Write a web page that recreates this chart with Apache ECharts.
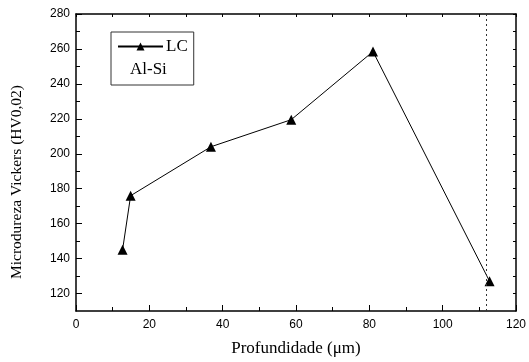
<!DOCTYPE html>
<html>
<head>
<meta charset="utf-8">
<script src="https://cdn.jsdelivr.net/npm/echarts@6/dist/echarts.min.js"></script>
<style>
  html, body { margin: 0; padding: 0; background: #fff; }
  #chart { width: 529px; height: 362px; }
</style>
</head>
<body>
<div id="chart"></div>
<script>
// depth (um) vs Vickers microhardness
const depth = [12.7, 14.9, 36.8, 58.7, 81.0, 112.8];
const hardness = [145, 176, 204, 219.5, 258.5, 127];
const interfaceDepth = 112; // dotted vertical marker

// y axis starts at 110, labels every 20 from 120
const yTicks = [120, 140, 160, 180, 200, 220, 240, 260, 280];
const yMinorTicks = [130, 150, 170, 190, 210, 230, 250, 270];

const chart = echarts.init(document.getElementById("chart"));

const serif = "Liberation Serif";
const sans = "Liberation Sans";
const axisLine = { show: true, onZero: false, lineStyle: { color: "#000", width: 1.5 } };

const option = {
  animation: false,
  grid: { left: 76, right: 10, top: 14, bottom: 48 },
  legend: {
    left: 111,
    top: 32,
    orient: "vertical",
    padding: [6, 6, 30, 6],
    borderColor: "#333",
    borderWidth: 1,
    itemWidth: 45,
    itemHeight: 10,
    itemGap: 0,
    textStyle: { fontFamily: serif, fontSize: 17, color: "#000", padding: [0, 0, 0, -2] },
    data: ["LC"],
  },
  graphic: [
    {
      type: "text",
      left: 130,
      top: 61,
      style: { text: "Al-Si", font: "17px " + serif, fill: "#000" },
    },
    {
      // y axis title, sits a bit below the plot centre like the original
      type: "text",
      x: 17,
      y: 182,
      rotation: Math.PI / 2,
      style: {
        text: "Microdureza Vickers (HV0,02)",
        font: "15.5px " + serif,
        fill: "#000",
        align: "center",
        verticalAlign: "middle",
      },
    },
  ],
  xAxis: [
    {
      type: "value",
      min: 0,
      max: 120,
      interval: 20,
      name: "Profundidade (\u03bcm)",
      nameLocation: "middle",
      nameGap: 29,
      nameTextStyle: { fontFamily: serif, fontSize: 17, color: "#000" },
      axisLine: axisLine,
      axisTick: { show: true, inside: true, length: 6, lineStyle: { color: "#000" } },
      minorTick: { show: true, splitNumber: 2, length: 4, lineStyle: { color: "#000" } },
      axisLabel: { fontFamily: sans, fontSize: 12, color: "#000", margin: 8 },
      splitLine: { show: false },
    },
    {
      type: "value",
      position: "top",
      min: 0,
      max: 120,
      interval: 20,
      axisLine: axisLine,
      axisTick: { show: true, inside: true, length: 3, lineStyle: { color: "#000" } },
      minorTick: { show: true, splitNumber: 2, length: 3, lineStyle: { color: "#000" } },
      axisLabel: { show: false },
      splitLine: { show: false },
    },
  ],
  yAxis: [
    {
      type: "value",
      min: 110,
      max: 280,
      axisLine: axisLine,
      axisTick: { show: true, inside: true, length: 6, customValues: yTicks, lineStyle: { color: "#000" } },
      axisLabel: { fontFamily: sans, fontSize: 12, color: "#000", margin: 6, customValues: yTicks },
      splitLine: { show: false },
    },
    {
      type: "value",
      position: "right",
      min: 110,
      max: 280,
      axisLine: axisLine,
      axisTick: { show: true, inside: true, length: 3, customValues: yTicks.concat(yMinorTicks), lineStyle: { color: "#000" } },
      axisLabel: { show: false },
      splitLine: { show: false },
    },
    {
      // minor ticks of the left axis
      type: "value",
      position: "left",
      min: 110,
      max: 280,
      axisLine: { show: false },
      axisTick: { show: true, inside: true, length: 4, customValues: yMinorTicks, lineStyle: { color: "#000" } },
      axisLabel: { show: false },
      splitLine: { show: false },
    },
  ],
  series: [
    {
      name: "LC",
      type: "line",
      data: depth.map((d, i) => [d, hardness[i]]),
      symbol: "triangle",
      symbolSize: 10,
      itemStyle: { color: "#000" },
      lineStyle: { color: "#000", width: 1 },
      markLine: {
        silent: true,
        symbol: "none",
        label: { show: false },
        lineStyle: { color: "#333", type: [2, 3], width: 1 },
        data: [{ xAxis: interfaceDepth }],
      },
    },
  ],
};

chart.setOption(option);
</script>
</body>
</html>
